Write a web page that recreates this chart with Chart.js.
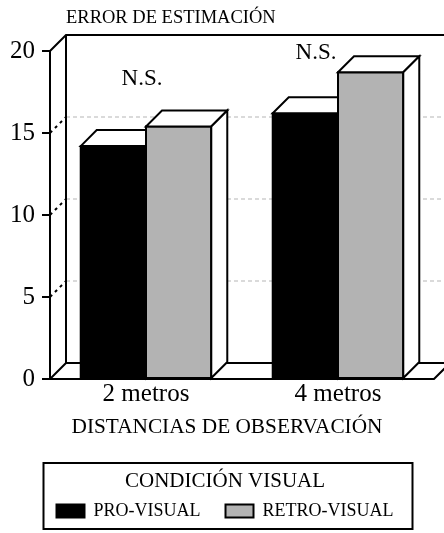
<!DOCTYPE html>
<html>
<head>
<meta charset="utf-8">
<script src="https://cdn.jsdelivr.net/npm/chart.js@4.4.1/dist/chart.umd.min.js"></script>
<style>
  html, body { margin: 0; padding: 0; background: #fff; }
  #chart { display: block; }
</style>
</head>
<body>
<canvas id="chart" width="444" height="533"></canvas>
<script>
// data
const categories = ['2 metros', '4 metros'];
const seriesNames = ['PRO-VISUAL', 'RETRO-VISUAL'];
const proVisual = [14.2, 16.2];
const retroVisual = [15.4, 18.7];
const yTicks = [0, 5, 10, 15, 20];
const nsLabels = ['N.S.', 'N.S.'];
const chartTitle = 'ERROR DE ESTIMACIÓN';
const xTitle = 'DISTANCIAS DE OBSERVACIÓN';
const legendTitle = 'CONDICIÓN VISUAL';

const FONT = "'Liberation Serif', 'Times New Roman', serif";
const DX = 16, DY = -16; // depth of the fake 3d box

const line = (ctx, x1, y1, x2, y2) => {
	ctx.beginPath();
	ctx.moveTo(x1, y1);
	ctx.lineTo(x2, y2);
	ctx.stroke();
};

const poly = (ctx, pts) => {
	ctx.beginPath();
	ctx.moveTo(pts[0][0], pts[0][1]);
	pts.slice(1).forEach(p => ctx.lineTo(p[0], p[1]));
	ctx.closePath();
	ctx.fill();
	ctx.stroke();
};

// walls, floor, back gridlines, bar tops/sides, free texts
const box3d = {
	id: 'box3d',
	afterLayout(chart) {
		// legend sits a bit right of centre in the original
		const lg = chart.legend;
		lg.left += 8;
		lg.right += 8;
	},
	beforeDatasetsDraw(chart) {
		const {ctx, chartArea: {left, right, top, bottom}, scales: {y}} = chart;
		ctx.save();
		ctx.strokeStyle = '#b5b5b5';
		ctx.lineWidth = 1;
		ctx.setLineDash([4, 3]);
		yTicks.slice(1, -1).forEach(v => {
			const py = y.getPixelForValue(v) + DY;
			line(ctx, left + DX, py, right + DX, py);
		});
		ctx.strokeStyle = '#000';
		ctx.lineWidth = 2;
		ctx.setLineDash([3, 4]);
		yTicks.slice(1, -1).forEach(v => {
			const py = y.getPixelForValue(v);
			line(ctx, left, py, left + DX, py + DY);
		});
		ctx.setLineDash([]);
		ctx.lineJoin = 'miter';
		ctx.beginPath();
		ctx.moveTo(left, top);
		ctx.lineTo(left + DX, top + DY);
		ctx.lineTo(right + DX, top + DY);
		ctx.lineTo(right + DX, bottom + DY);
		ctx.moveTo(left + DX, top + DY);
		ctx.lineTo(left + DX, bottom + DY);
		ctx.lineTo(right + DX, bottom + DY);
		ctx.lineTo(right, bottom);
		ctx.lineTo(left, bottom);
		ctx.lineTo(left + DX, bottom + DY);
		ctx.stroke();
		ctx.restore();
	},
	afterDatasetsDraw(chart) {
		const ctx = chart.ctx;
		ctx.save();
		ctx.lineWidth = 2;
		ctx.strokeStyle = '#000';
		ctx.lineJoin = 'miter';
		// redraw group by group so the right bar hides the left one's top
		chart.data.labels.forEach((lab, i) => {
			chart.data.datasets.forEach((ds, d) => {
				const el = chart.getDatasetMeta(d).data[i];
				const {x, y, base, width} = el.getProps(['x', 'y', 'base', 'width'], true);
				const l = x - width / 2, r = x + width / 2;
				ctx.fillStyle = ds.backgroundColor;
				ctx.fillRect(l, y, width, base - y);
				ctx.strokeRect(l, y, width, base - y);
				ctx.fillStyle = '#fff';
				poly(ctx, [[l, y], [l + DX, y + DY], [r + DX, y + DY], [r, y]]);
				poly(ctx, [[r, y], [r + DX, y + DY], [r + DX, base + DY], [r, base]]);
			});
		});
		ctx.restore();
	},
	afterDraw(chart, args, opts) {
		const {ctx, chartArea: {left}, scales: {x, y}, legend} = chart;
		ctx.save();
		ctx.fillStyle = '#000';
		ctx.textBaseline = 'middle';
		ctx.textAlign = 'left';
		ctx.font = `18.5px ${FONT}`;
		ctx.fillText(chartTitle, left + DX, 18);
		ctx.textAlign = 'center';
		ctx.font = `21.3px ${FONT}`;
		ctx.fillText(xTitle, 227, 427);
		ctx.font = `23px ${FONT}`;
		opts.ns.forEach((n, i) => {
			ctx.fillText(nsLabels[i], x.getPixelForValue(n.index) + n.dx, y.getPixelForValue(n.value));
		});
		// frame round the legend
		const hb = legend.legendHitBoxes;
		const last = hb[hb.length - 1];
		const x1 = hb[0].left - 13, x2 = last.left + last.width + 19;
		ctx.lineWidth = 2;
		ctx.strokeStyle = '#000';
		ctx.strokeRect(x1, legend.top + 1, x2 - x1, legend.bottom - legend.top - 2);
		ctx.restore();
	}
};

const config = {
	type: 'bar',
	data: {
		labels: categories,
		datasets: [
			{
				label: seriesNames[0],
				data: proVisual,
				backgroundColor: '#000',
				borderColor: '#000',
				borderWidth: 2
			},
			{
				label: seriesNames[1],
				data: retroVisual,
				backgroundColor: '#b3b3b3',
				borderColor: '#000',
				borderWidth: 2
			}
		]
	},
	options: {
		responsive: false,
		animation: false,
		events: [],
		categoryPercentage: 0.68,
		barPercentage: 1.0,
		layout: {
			padding: {top: 51, right: 10, bottom: 3, left: 0}
		},
		plugins: {
			tooltip: {enabled: false},
			title: {display: false},
			legend: {
				position: 'bottom',
				title: {
					display: true,
					text: legendTitle,
					color: '#000',
					font: {family: FONT, size: 21, lineHeight: 1},
					padding: {top: 8.5, bottom: -14.5}
				},
				labels: {
					boxWidth: 28,
					boxHeight: 13,
					padding: 25,
					color: '#000',
					font: {family: FONT, size: 18}
				}
			},
			box3d: {
				ns: [
					{index: 0, value: 18.3, dx: -4},
					{index: 1, value: 19.9, dx: -22}
				]
			}
		},
		scales: {
			x: {
				grid: {display: false, drawTicks: false},
				border: {display: false},
				ticks: {
					padding: 0,
					color: '#000',
					font: {family: FONT, size: 25}
				},
				afterFit: scale => { scale.height = 83; }
			},
			y: {
				min: 0,
				max: 20,
				ticks: {
					stepSize: 5,
					padding: 7,
					color: '#000',
					font: {family: FONT, size: 25}
				},
				grid: {
					drawOnChartArea: false,
					drawTicks: true,
					tickLength: 8,
					color: '#000',
					lineWidth: 2
				},
				border: {display: true, color: '#000', width: 2},
				afterFit: scale => { scale.width = 50; }
			}
		}
	},
	plugins: [box3d]
};

new Chart(document.getElementById('chart'), config);
</script>
</body>
</html>
